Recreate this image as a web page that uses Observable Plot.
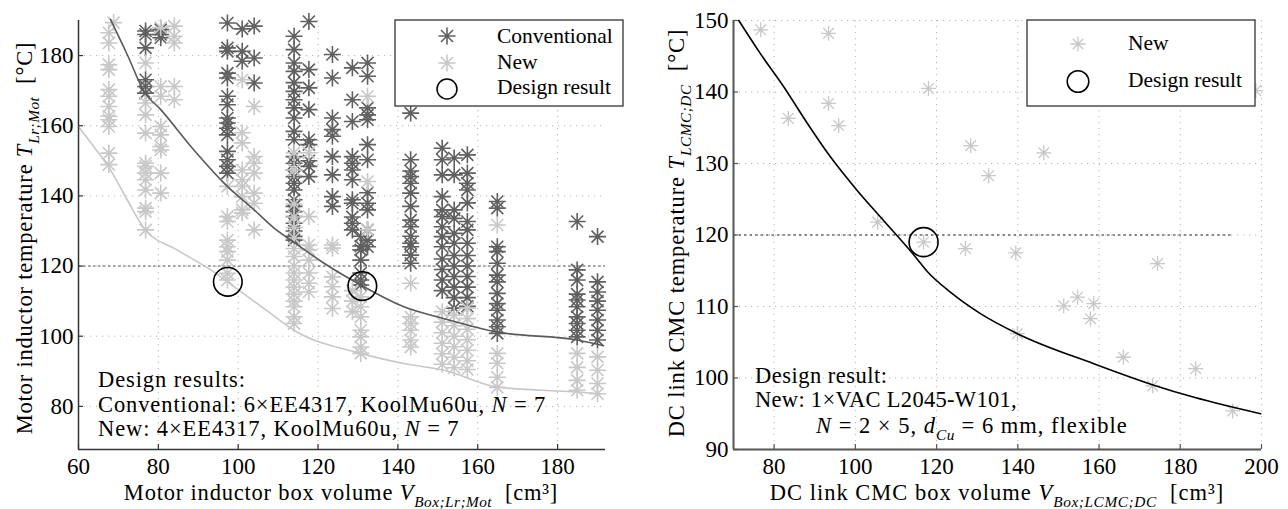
<!DOCTYPE html>
<html><head><meta charset="utf-8">
<script src="https://cdn.jsdelivr.net/npm/d3@7"></script>
<script src="https://cdn.jsdelivr.net/npm/@observablehq/plot@0.6"></script>
<style>
body{margin:0;background:#fff;}
#wrap{display:flex;width:1288px;height:509px;overflow:hidden;}
svg text{white-space:pre;}
</style></head><body><div id="wrap"></div>
<script>
// ---------------- Left panel: motor inductor ----------------
const leftXTicks = [60, 80, 100, 120, 140, 160, 180];
const leftYTicks = [80, 100, 120, 140, 160, 180];

// Conventional designs (dark), one temperature list per box-volume column
const convVolume = [76.8, 80.6, 97.3, 101, 104, 114, 117.7, 123.6, 128.6, 132.4, 130.7, 143.2, 151.1, 154.1, 157.4, 164.9, 184.9, 190];
const convTemp = [
  [187, 186, 182.2, 173.1, 171.2, 169.3],
  [187.4, 186, 185.1],
  [189.3, 182.2, 181.2, 175, 173.6, 168.4, 166, 162.2, 160.8, 159.3, 157.4, 152.7, 150.3, 148.4, 146.5],
  [187.6, 181.2, 178.4],
  [188.4, 179.3, 172.2],
  [185.5, 181.7, 177.9, 175.5, 172.3, 169.8, 167.4, 165.1, 162.2, 158.4, 156, 151.2, 149.3, 147.4, 145.5, 143.6, 141.7, 138.9, 137, 135.5, 134.1, 132.2, 130, 128.5, 127.4],
  [189.7, 176, 170.8, 164.6, 156, 154.6, 150, 148.4, 145.5],
  [180.3, 173.6, 162.2, 158.9, 157, 151.2, 146, 139.8, 137],
  [176.5, 167.4, 161.2, 151.2, 149.3, 147.4, 144.6, 138.9, 137.9, 134, 132.2, 130.3],
  [177.9, 174.1, 165.1, 163.1, 161.7, 154.6, 150.3, 140.9, 137.9, 136, 130.3, 127.4, 125.5],
  [128.5, 125.7, 124.6, 121.7, 118, 116, 114.6],
  [163.6, 150.3, 147.1, 145.5, 143.6, 140.8, 137, 133.1, 131.2, 128.5, 126.5, 125.5, 123.1, 120.8],
  [153.6, 150.3, 146, 139.8, 136, 134.1, 131.2, 128.4, 125.5, 122, 119, 116, 113],
  [150.8, 146, 136, 133.6, 129.3, 126.5, 123, 120, 117, 114, 111, 108],
  [151.7, 146.5, 143.6, 141.7, 138, 132.7, 130.3, 126.5, 123, 120, 117, 114, 111, 108.5],
  [138.4, 136.5, 125.5, 124.1, 120.8, 117.4, 115.5, 112.2, 109.3, 107.4, 104.6, 102.7, 100.8],
  [132.7, 118.9, 116, 112, 110.3, 108.4, 105.5, 103.6, 101.7, 99.8],
  [128.4, 115.5, 112.6, 110, 107.4, 104.6, 101.7, 98.9]
];

// New designs (light), one temperature list per box-volume column
const newVolume = [67.6, 68.8, 76.8, 80.6, 84, 97.3, 101, 104, 114, 117.7, 123.6, 128.6, 130.7, 132.4, 143.2, 151.1, 154.1, 157.4, 164.9, 184.9, 190];
const newTemp = [
  [186.5, 183.6, 177.4, 176, 170.3, 168.4, 165.5, 162.7, 161.7, 159.8, 152.2, 148.9],
  [189.4],
  [177.9, 166.5, 163.1, 157.9, 149.3, 148.4, 146.5, 144.6, 141.7, 136.5, 135.5, 130.3],
  [188, 171.2, 168.4, 159.8, 157.4, 154.1, 153.1, 146.5, 140.8],
  [188.4, 185.5, 183.6, 171.2, 167.4],
  [142.7, 134.1, 132.7, 127.4, 125.5, 124.1, 121.7, 117.9, 116],
  [173.1, 158, 155.1, 147.4, 144.6, 142.7, 139.8, 136, 135.1],
  [165.5, 151.2, 149.3, 146.5, 140.8, 137.9, 130.3],
  [152.3, 147.4, 137.7, 134, 131, 128, 125, 122.7, 120, 118, 116, 114, 112, 110, 108.4, 105.5, 103.6],
  [152.3, 134.1, 126, 124.6, 121.7, 118, 115.1, 112.6],
  [126, 125.1, 116.9, 114.1, 111.2, 107.9],
  [113, 110, 107],
  [111.2, 108.4, 105.5, 101.7, 99.8, 96.9, 95.1],
  [168.4, 144.1, 130.3],
  [115.1, 105.5, 103.6, 101.7, 98.9, 96.9],
  [107, 104, 101, 98, 95, 92],
  [106, 103, 100, 97, 94, 91],
  [108, 105, 102, 99, 96, 93, 90.5],
  [131.7, 95.1, 92.3, 88.3, 85.4],
  [95.1, 91.1, 87.4, 84.6],
  [94.1, 90.3, 86.5, 83.6]
];

// Pareto fronts
const convFrontV = [68, 72.2, 76.4, 80.6, 88.9, 97.3, 104, 109, 114.3, 121.5, 130.7, 141.5, 151.6, 164.9, 184.9, 191.5];
const convFrontT = [190.3, 180.3, 169.8, 164.6, 153.1, 142.7, 136, 130.8, 126.5, 120.8, 114.6, 108.4, 105, 101.2, 98.9, 97.3];
const newFrontV = [60.3, 63.8, 68, 72.2, 76.4, 84.7, 93.1, 97.3, 108.1, 114, 130.7, 141.5, 151.6, 164.9, 184.9, 190.8];
const newFrontT = [159.3, 154.1, 147.4, 138.9, 130.8, 124.6, 118.9, 115.5, 106.5, 101.7, 95.1, 92.2, 90.3, 85.5, 84.1, 83.6];

// Chosen designs (circles)
const leftDesignV = [97.4, 131.1];
const leftDesignT = [115.5, 114.3];

// ---------------- Right panel: DC link CMC ----------------
const rightXTicks = [80, 100, 120, 140, 160, 180, 200];
const rightYTicks = [90, 100, 110, 120, 130, 140, 150];
const cmcVolume = [76.7, 83.5, 93.4, 93.4, 95.9, 105.5, 116.8, 118, 127.1, 128.4, 132.8, 139.5, 139.9, 146.4, 151.3, 154.7, 158.7, 157.9, 166, 173.2, 174.4, 183.8, 192.9, 198.6];
const cmcTemp = [148.7, 136.3, 148.2, 138.4, 135.3, 121.8, 119, 140.5, 118.1, 132.5, 128.3, 117.5, 106.2, 131.5, 110.1, 111.3, 110.4, 108.3, 102.9, 98.9, 116, 101.3, 95.4, 140.2];
const cmcFrontV = [71.3, 76.7, 82.4, 88.2, 93.9, 100.5, 107, 114.4, 117.7, 123.4, 130.8, 139.9, 158.7, 173.5, 183.4, 199.8];
const cmcFrontT = [150, 145.3, 140.7, 135.6, 130.9, 126.2, 122, 117.2, 114.9, 112.0, 109, 106.2, 102, 99, 97.3, 95];
const rightDesignV = [116.8];
const rightDesignT = [119];

const limitT = 120;

// ---------------- helpers ----------------
const DARK = "#606060", LIGHT = "#c8c8c8";
const FONT = "'Liberation Serif', 'Times New Roman', serif";

const asterisk = {
  draw(ctx, size) {
    const r = Math.sqrt(size / Math.PI);
    const d = r * Math.SQRT1_2;
    ctx.moveTo(-r, 0); ctx.lineTo(r, 0);
    ctx.moveTo(0, -r); ctx.lineTo(0, r);
    ctx.moveTo(-d, -d); ctx.lineTo(d, d);
    ctx.moveTo(-d, d); ctx.lineTo(d, -d);
  }
};

const cols = (vs, ts) => vs.flatMap((v, i) => ts[i].map(t => ({v, t})));
const pairs = (vs, ts) => vs.map((v, i) => ({v, t: ts[i]}));

function frame({xDomain, yDomain, xTicks, yTicks, marginLeft, marginRight, axisColor, axisWidth, marks}) {
  return Plot.plot({
    width: 644, height: 509, marginLeft, marginRight, marginTop: 20, marginBottom: 60,
    style: {fontFamily: FONT, fontSize: "23px", color: "#000", background: "#fff", overflow: "visible"},
    x: {domain: xDomain, label: null},
    y: {domain: yDomain, label: null},
    marks: [
      Plot.gridX(xTicks, {stroke: "#b5b5b5", strokeOpacity: 1, strokeDasharray: "1.2,4.8"}),
      Plot.gridY(yTicks, {stroke: "#b5b5b5", strokeOpacity: 1, strokeDasharray: "1.2,4.8"}),
      ...marks,
      Plot.ruleX([xDomain[0]], {stroke: axisColor, strokeWidth: axisWidth}),
      Plot.ruleY([yDomain[0]], {stroke: axisColor, strokeWidth: axisWidth}),
      Plot.axisX(xTicks, {tickSize: 0, tickPadding: 8, label: null}),
      Plot.axisY(yTicks, {tickSize: 0, tickPadding: 5, label: null}),
      Plot.axisX(xTicks, {tickSize: 5, dy: -5, tickFormat: () => "", label: null, stroke: axisColor, strokeWidth: 1.2}),
      Plot.axisY(yTicks, {tickSize: 5, dx: 5, tickFormat: () => "", label: null, stroke: axisColor, strokeWidth: 1.2})
    ]
  });
}

function addText(svg, {x, y, size, anchor = "start", rotate = 0, ls = 0, parts}) {
  const t = d3.select(svg).append("text")
    .attr("transform", `translate(${x},${y}) rotate(${rotate})`)
    .attr("text-anchor", anchor).attr("font-size", size)
    .attr("letter-spacing", ls)
    .attr("font-family", FONT).attr("fill", "#000");
  let shift = 0;
  for (const p of parts) {
    const s = t.append("tspan").text(p.t);
    if (p.i) s.attr("font-style", "italic");
    const target = p.sub ? size * 0.3 : 0;
    if (target !== shift) { s.attr("dy", target - shift); shift = target; }
    if (p.sub) s.attr("font-size", size * 0.68).attr("letter-spacing", ls * 0.6);
  }
  return t;
}

function addLegend(svg, {x0, y0, w, h, items, symX, textX, size}) {
  const g = d3.select(svg).append("g");
  g.append("rect").attr("x", x0).attr("y", y0).attr("width", w).attr("height", h)
    .attr("fill", "#fff").attr("stroke", "#333").attr("stroke-width", 1.3);
  for (const it of items) {
    if (it.kind === "star") {
      g.append("path").attr("transform", `translate(${symX},${it.cy})`)
        .attr("d", d3.symbol(asterisk, Math.PI * it.r * it.r)())
        .attr("fill", "none").attr("stroke", it.color).attr("stroke-width", it.sw);
    } else {
      g.append("circle").attr("cx", symX).attr("cy", it.cy).attr("r", it.r)
        .attr("fill", "none").attr("stroke", "#000").attr("stroke-width", 1.5);
    }
    g.append("text").attr("x", textX).attr("y", it.by).attr("font-size", size)
      .attr("text-anchor", "start")
      .attr("font-family", FONT).attr("fill", "#000").text(it.label);
  }
}

// ---------------- left plot ----------------
const left = frame({
  xDomain: [60, 192], yDomain: [67.7, 190], xTicks: leftXTicks, yTicks: leftYTicks,
  marginLeft: 78, marginRight: 39, axisColor: "#333", axisWidth: 1.5,
  marks: [
    Plot.ruleY([limitT], {x1: 60, x2: 192, stroke: "#555", strokeWidth: 1, strokeDasharray: "2.5,2.5"}),
    Plot.dot(cols(convVolume, convTemp), {x: "v", y: "t", symbol: asterisk, r: 8.5, fill: "none", stroke: DARK, strokeWidth: 1.6}),
    Plot.dot(cols(newVolume, newTemp), {x: "v", y: "t", symbol: asterisk, r: 8.5, fill: "none", stroke: LIGHT, strokeWidth: 1.6}),
    Plot.line(pairs(newFrontV, newFrontT), {x: "v", y: "t", stroke: LIGHT, strokeWidth: 1.6, curve: "monotone-x"}),
    Plot.line(pairs(convFrontV, convFrontT), {x: "v", y: "t", stroke: "#5a5a5a", strokeWidth: 1.6, curve: "monotone-x"}),
    Plot.dot(pairs(leftDesignV, leftDesignT), {x: "v", y: "t", r: 14.3, fill: "none", stroke: "#000", strokeWidth: 1.6})
  ]
});

addLegend(left, {x0: 395, y0: 20, w: 228, h: 86, symX: 447, textX: 497, size: 21.5, items: [
  {kind: "star", cy: 36, by: 43, r: 8.5, color: DARK, sw: 1.6, label: "Conventional"},
  {kind: "star", cy: 63, by: 68.5, r: 8.5, color: LIGHT, sw: 1.6, label: "New"},
  {kind: "circle", cy: 89, by: 93.5, r: 10, label: "Design result"}
]});
addText(left, {x: 98, y: 387, size: 22.5, ls: 0.9, parts: [{t: "Design results:"}]});
addText(left, {x: 98, y: 411.5, size: 22.5, ls: 0.9, parts: [{t: "Conventional: 6×EE4317, KoolMu60u, "}, {t: "N", i: 1}, {t: " = 7"}]});
addText(left, {x: 98, y: 436, size: 22.5, ls: 0.9, parts: [{t: "New: 4×EE4317, KoolMu60u, "}, {t: "N", i: 1}, {t: " = 7"}]});
addText(left, {x: 341, y: 500, size: 22.5, ls: 0.8, anchor: "middle", parts: [{t: "Motor inductor box volume "}, {t: "V", i: 1}, {t: "Box;Lr;Mot", i: 1, sub: 1}, {t: "  [cm³]"}]});
addText(left, {x: 32, y: 238, size: 22.5, ls: 0.8, anchor: "middle", rotate: -90, parts: [{t: "Motor inductor temperature "}, {t: "T", i: 1}, {t: "Lr;Mot", i: 1, sub: 1}, {t: "  [°C]"}]});

// ---------------- right plot ----------------
const right = frame({
  xDomain: [70, 200], yDomain: [90, 150], xTicks: rightXTicks, yTicks: rightYTicks,
  marginLeft: 89, marginRight: 27, axisColor: "#555", axisWidth: 2,
  marks: [
    Plot.ruleY([limitT], {x1: 70, x2: 193, stroke: "#222", strokeWidth: 1, strokeDasharray: "2.5,3"}),
    Plot.dot(pairs(cmcVolume, cmcTemp), {x: "v", y: "t", symbol: asterisk, r: 7.5, fill: "none", stroke: LIGHT, strokeWidth: 1.3}),
    Plot.line(pairs(cmcFrontV, cmcFrontT), {x: "v", y: "t", stroke: "#000", strokeWidth: 1.6, curve: "monotone-x"}),
    Plot.dot(pairs(rightDesignV, rightDesignT), {x: "v", y: "t", r: 14.5, fill: "none", stroke: "#000", strokeWidth: 1.6})
  ]
});

addLegend(right, {x0: 383, y0: 20, w: 228, h: 86, symX: 434, textX: 484, size: 21.5, items: [
  {kind: "star", cy: 44, by: 50, r: 7.5, color: LIGHT, sw: 1.3, label: "New"},
  {kind: "circle", cy: 81.5, by: 87, r: 10.8, label: "Design result"}
]});
addText(right, {x: 111, y: 383, size: 22.5, ls: 0.5, parts: [{t: "Design result:"}]});
addText(right, {x: 111, y: 407, size: 22.5, ls: 0.3, parts: [{t: "New: 1×VAC L2045-W101,"}]});
addText(right, {x: 172, y: 433, size: 22.5, ls: 1.0, parts: [{t: "N", i: 1}, {t: " = 2 × 5, "}, {t: "d", i: 1}, {t: "Cu", i: 1, sub: 1}, {t: " = 6 mm, flexible"}]});
addText(right, {x: 353, y: 500, size: 22.5, ls: 1.0, anchor: "middle", parts: [{t: "DC link CMC box volume "}, {t: "V", i: 1}, {t: "Box;LCMC;DC", i: 1, sub: 1}, {t: "  [cm³]"}]});
addText(right, {x: 40, y: 233, size: 22.5, ls: 0.9, anchor: "middle", rotate: -90, parts: [{t: "DC link CMC temperature "}, {t: "T", i: 1}, {t: "LCMC;DC", i: 1, sub: 1}, {t: "  [°C]"}]});

document.getElementById("wrap").append(left, right);
</script></body></html>
